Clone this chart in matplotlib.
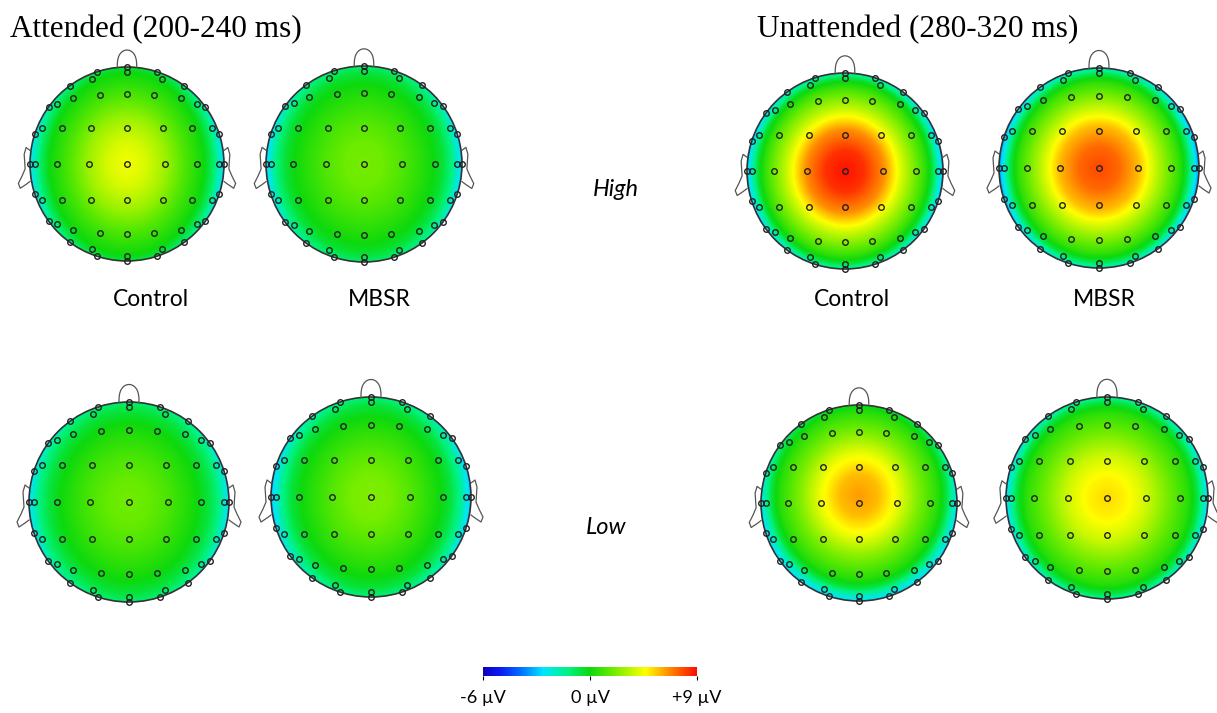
import matplotlib
matplotlib.use("Agg")
import matplotlib.pyplot as plt
import numpy as np
from matplotlib.colors import LinearSegmentedColormap, TwoSlopeNorm
from matplotlib.patches import Circle

# radial profile of the voltage (uV) from head centre (0) to rim (1)
radii = [0.0, 0.2, 0.4, 0.6, 0.8, 0.9, 1.0]

att_high_control = [4.5, 3.9, 2.8, 1.3, 0.0, -1.0, -2.6]
att_high_mbsr = [2.1, 1.9, 1.3, 0.5, -0.4, -1.2, -2.8]
att_low_control = [2.0, 1.8, 1.2, 0.4, -0.5, -1.2, -2.6]
att_low_mbsr = [2.3, 2.1, 1.4, 0.5, -0.5, -1.4, -3.0]
unatt_high_control = [8.9, 8.3, 6.6, 3.6, 1.0, -0.6, -3.0]
unatt_high_mbsr = [7.9, 7.3, 5.8, 3.2, 0.8, -0.8, -3.4]
unatt_low_control = [6.4, 5.8, 4.3, 2.3, 0.6, -0.6, -2.4]
unatt_low_mbsr = [5.3, 4.8, 3.7, 2.1, 0.6, -0.6, -2.6]

# vertical stretch of the field and frontal shift of the peak
stretch = [1.18, 1.15, 1.06, 1.06, 1.15, 1.15, 1.06, 1.06]
shift = [0.0, 0.0, 0.0, 0.0, 0.0, 0.0, 0.08, 0.0]

maps = [att_high_control, att_high_mbsr, unatt_high_control, unatt_high_mbsr,
        att_low_control, att_low_mbsr, unatt_low_control, unatt_low_mbsr]

# head centres / radius in pixels (y from top)
heads = [(127, 164, 97), (364, 164, 98), (845, 171, 98), (1099, 168, 100),
         (129, 502, 100), (371, 497, 100), (859, 503, 98), (1107, 498, 101)]

cmap = LinearSegmentedColormap.from_list("topo", [
    (0.00, (0.05, 0.00, 0.75)),
    (0.08, (0.05, 0.10, 0.95)),
    (0.18, (0.00, 0.45, 1.00)),
    (0.28, (0.00, 0.90, 1.00)),
    (0.40, (0.00, 0.95, 0.50)),
    (0.50, (0.05, 0.85, 0.05)),
    (0.60, (0.40, 0.92, 0.00)),
    (0.76, (1.00, 1.00, 0.00)),
    (0.87, (1.00, 0.55, 0.00)),
    (1.00, (1.00, 0.05, 0.00)),
])
norm = TwoSlopeNorm(vmin=-6, vcenter=0, vmax=9)

# electrode layout (unit head)
elec = [(0, 0), (0.39, 0), (-0.39, 0), (0.72, 0), (-0.72, 0)]
for sy in (1, -1):
    elec += [(0, 0.37 * sy), (0.37, 0.37 * sy), (-0.37, 0.37 * sy),
             (0.67, 0.37 * sy), (-0.67, 0.37 * sy)]
    elec += [(0, 0.72 * sy), (0.28, 0.71 * sy), (-0.28, 0.71 * sy),
             (0.56, 0.68 * sy), (-0.56, 0.68 * sy)]
for a in np.deg2rad(np.arange(0, 360, 18)):
    elec.append((np.sin(a), np.cos(a)))
for d in [0, 22, 49, 67, 90, 113, 131, 158, 180, 202, 229, 247, 270, 293, 311, 338]:
    a = np.deg2rad(d)
    elec.append((0.95 * np.sin(a), 0.95 * np.cos(a)))
elec = np.array(elec)

W, H = 1217, 713
fig = plt.figure(figsize=(W / 100, H / 100), dpi=100)

g = np.linspace(-1, 1, 300)
X, Y = np.meshgrid(g, g)

for k, (cx, cy, r) in enumerate(heads):
    half = r * 1.25
    ax = fig.add_axes([(cx - half) / W, 1 - (cy + half) / H, 2 * half / W, 2 * half / H])
    ax.set_xlim(-1.25, 1.25)
    ax.set_ylim(-1.25, 1.25)
    ax.axis("off")
    R = np.sqrt(X ** 2 + ((Y - shift[k]) / stretch[k]) ** 2)
    Z = np.interp(R, radii, maps[k])
    im = ax.imshow(Z, extent=(-1, 1, -1, 1), origin="lower", cmap=cmap, norm=norm,
                   interpolation="bilinear")
    clip = Circle((0, 0), 1.0, transform=ax.transData)
    im.set_clip_path(clip)
    ax.add_patch(Circle((0, 0), 1.0, fill=False, ec="#333333", lw=1.2))
    # nose
    t = np.linspace(0, np.pi, 50)
    nx = 0.1 * np.cos(t)
    ny = 0.995 + 0.18 * np.sin(t) ** 0.7
    ax.plot(nx, ny, color="#555555", lw=0.9)
    # ears
    ex = np.array([1.0, 1.04, 1.06, 1.05, 1.08, 1.12, 1.10, 1.04, 1.0])
    ey = np.array([0.14, 0.17, 0.10, -0.05, -0.12, -0.2, -0.25, -0.21, -0.18])
    ax.plot(ex, ey, color="#555555", lw=0.9)
    ax.plot(-ex, ey, color="#555555", lw=0.9)
    ax.plot(elec[:, 0], elec[:, 1], "o", ms=4, mfc="none", mec="#222222", mew=1.0)

serif = ["Liberation Serif", "DejaVu Serif"]
sans = ["Lato", "DejaVu Sans"]
fig.text(10 / W, 1 - 37 / H, "Attended (200-240 ms)", family=serif, fontsize=22.5, va="baseline")
fig.text(757 / W, 1 - 37 / H, "Unattended (280-320 ms)", family=serif, fontsize=22.5, va="baseline")
for x, s in [(151, "Control"), (379, "MBSR"), (852, "Control"), (1104, "MBSR")]:
    fig.text(x / W, 1 - 300 / H, s, family=sans, fontsize=16.5, ha="center", va="center")
fig.text(616 / W, 1 - 190 / H, "High", family=sans, fontsize=17, style="italic", ha="center", va="center")
fig.text(606 / W, 1 - 528 / H, "Low", family=sans, fontsize=17, style="italic", ha="center", va="center")

cax = fig.add_axes([483 / W, 1 - 676 / H, 214 / W, 9 / H])
sm = plt.cm.ScalarMappable(norm=norm, cmap=cmap)
cb = fig.colorbar(sm, cax=cax, orientation="horizontal", ticks=[-6, 0, 9])
cb.ax.set_xticklabels(["-6 \u00b5V", "0 \u00b5V", "+9 \u00b5V"], family=sans, fontsize=13)
cb.ax.tick_params(length=3, width=0.8, pad=7)
cb.outline.set_visible(False)

fig.savefig("out.png", dpi=100)
